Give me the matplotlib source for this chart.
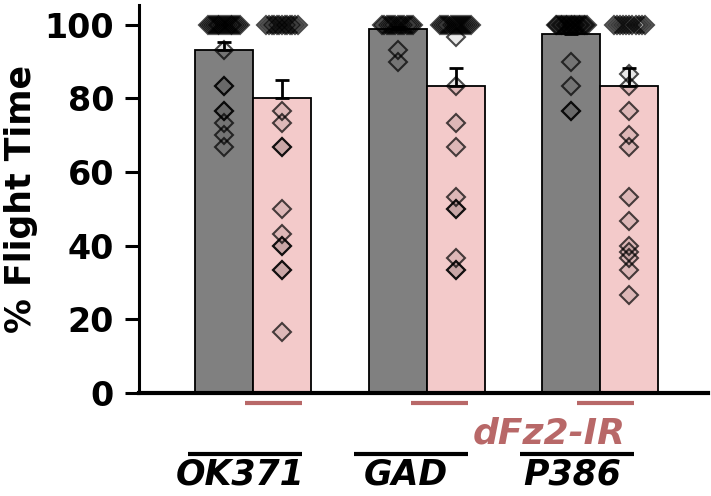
import numpy as np
import matplotlib
matplotlib.use('Agg')
from matplotlib import pyplot as plt
from matplotlib import transforms

# Data.
drivers = ['OK371', 'GAD', 'P386']
ctrl_mean = [93.2, 99.0, 97.5]
rnai_mean = [80.0, 83.4, 83.3]
ctrl_sem = [2.2, 0.4, 0.4]
rnai_sem = [4.9, 4.9, 4.9]

ok371_ctrl = [100, 100, 100, 100, 100, 100, 100, 100, 100, 100, 100, 100,
              100, 100, 100, 100, 100, 100,
              93.3, 83.3, 83.3, 76.7, 76.7, 73.3, 70.0, 66.7]
ok371_rnai = [100, 100, 100, 100, 100, 100, 100, 100, 100, 100, 100, 100,
              100,
              76.7, 73.3, 66.7, 66.7, 50.0, 43.3, 40.0, 40.0, 33.3, 33.3,
              16.7]
gad_ctrl = [100, 100, 100, 100, 100, 100, 100, 100, 100, 100, 100, 100,
            100, 100, 100,
            93.3, 90.0]
gad_rnai = [100, 100, 100, 100, 100, 100, 100, 100, 100, 100, 100, 100,
            100, 100, 100, 100,
            96.7, 83.3, 73.3, 66.7, 53.3, 50.0, 50.0, 36.7, 33.3, 33.3]
p386_ctrl = [100, 100, 100, 100, 100, 100, 100, 100, 100, 100, 100, 100,
             100, 100, 100, 100, 100, 100, 100, 100,
             90.0, 83.3, 76.7, 76.7]
p386_rnai = [100, 100, 100, 100, 100, 100, 100, 100, 100, 100, 100,
             86.7, 83.3, 76.7, 70.0, 66.7, 53.3, 46.7, 40.0, 38.3, 36.7,
             33.3, 26.7]

ctrl_points = [ok371_ctrl, gad_ctrl, p386_ctrl]
rnai_points = [ok371_rnai, gad_rnai, p386_rnai]
rnai_label = 'dFz2-IR'

# Styles.
dark = '#808080'
pink = '#f3caca'
rose = '#b86868'
width = 0.334
plt.rcParams['font.family'] = ['DejaVu Sans']
plt.rcParams['font.weight'] = 'bold'

fig = plt.figure(figsize=(7.11, 4.96), dpi=100)
ax = fig.add_axes([0.1955, 0.2077, 0.8003, 0.7823])
x = np.arange(len(drivers))

# Bars.
ax.bar(x - width / 2, ctrl_mean, width, color=dark, edgecolor='black',
       linewidth=1.3, zorder=1)
ax.bar(x + width / 2, rnai_mean, width, color=pink, edgecolor='black',
       linewidth=1.3, zorder=1)

# Upper error bars.
for xs, m, s in [(x - width / 2, ctrl_mean, ctrl_sem),
                 (x + width / 2, rnai_mean, rnai_sem)]:
    ax.errorbar(xs, m, yerr=[np.zeros(len(s)), s], fmt='none',
                ecolor='black', elinewidth=2, capsize=5, capthick=2,
                zorder=2)


# Individual flies as open diamonds.
def draw_points(xc, vals):
    vals = np.asarray(vals, dtype=float)
    xs = np.full(len(vals), xc)
    top = vals >= 99.9
    xs[top] = xc + np.linspace(-0.09, 0.09, top.sum())
    ax.plot(xs, vals, linestyle='none', marker='D', markersize=9.5,
            markerfacecolor=(0, 0, 0, 0.09),
            markeredgecolor=(0, 0, 0, 0.7),
            markeredgewidth=1.5, zorder=3, clip_on=False)


for i in range(len(drivers)):
    draw_points(x[i] - width / 2, ctrl_points[i])
    draw_points(x[i] + width / 2, rnai_points[i])

# Axes styling.
ax.set_xlim(-0.657, 2.62)
ax.set_ylim(0, 105.4)
ax.set_yticks([0, 20, 40, 60, 80, 100])
ax.tick_params(axis='y', labelsize=24, width=2.2, length=10, pad=8)
ax.tick_params(axis='x', bottom=False, labelbottom=False)
for lab in ax.get_yticklabels():
    lab.set_fontweight('bold')
ax.spines['top'].set_visible(False)
ax.spines['right'].set_visible(False)
ax.spines['left'].set_linewidth(2.2)
ax.spines['bottom'].set_linewidth(3)
ax.set_ylabel('% Flight Time', fontsize=25, fontweight='bold')
ax.yaxis.set_label_coords(-0.178, 0.5)

# Genotype annotations below the axis.
trans = transforms.blended_transform_factory(ax.transData, ax.transAxes)
shift = 0.957
for i, name in enumerate(drivers):
    c = i * shift
    ax.plot([c - 0.375, c + 0.282], [-0.157, -0.157], color='black',
            linewidth=3, transform=trans, clip_on=False,
            solid_capstyle='butt')
    ax.plot([c - 0.046, c + 0.282], [-0.026, -0.026], color=rose,
            linewidth=3, transform=trans, clip_on=False,
            solid_capstyle='butt')
    ax.text(c - 0.075, -0.237, name, transform=trans, ha='center',
            va='baseline', fontsize=25, fontweight='bold', style='italic',
            color='black')
ax.text(1.706, -0.129, rnai_label, transform=trans, ha='center',
        va='baseline', fontsize=26, fontweight='bold', style='italic',
        color=rose)

fig.savefig('out.png', dpi=100)
plt.close(fig)
